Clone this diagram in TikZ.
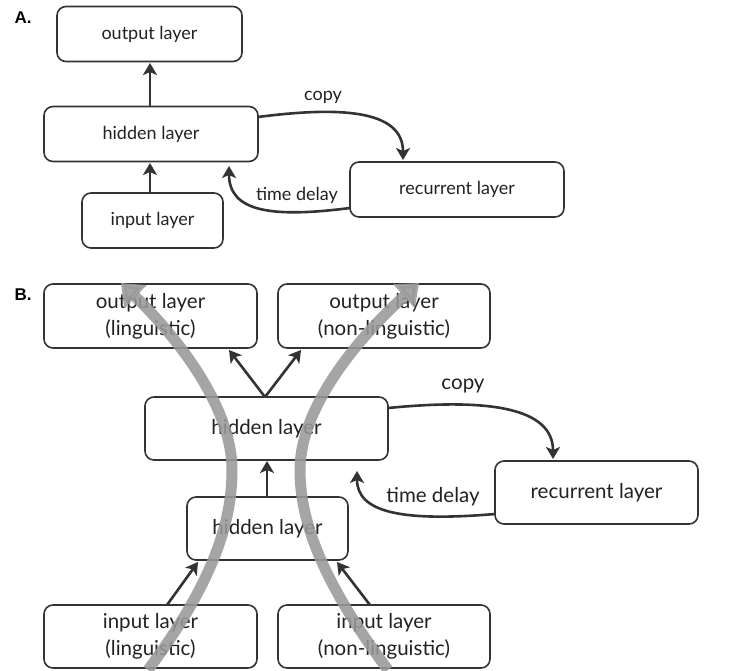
\documentclass[tikz,border=0pt]{standalone}
\usepackage{fontspec}
\setmainfont{Lato}
\newfontfamily\labfont{Liberation Sans}
\usetikzlibrary{arrows.meta}
\definecolor{linec}{HTML}{333333}
\definecolor{textc}{HTML}{222222}
\definecolor{bandc}{HTML}{999999}
\tikzset{
  boxA/.style={draw=linec, line width=1.6pt, rounded corners=9pt, fill=white,
    align=center, inner sep=0pt, text=textc, font=\fontsize{18}{22}\selectfont},
  boxB/.style={draw=linec, line width=1.6pt, rounded corners=9pt, fill=white,
    align=center, inner sep=0pt, text=textc, font=\fontsize{20.5}{27}\selectfont},
  arr/.style={draw=linec, line width=2.6pt, -{Stealth[length=12pt,width=14pt,inset=3pt]}},
  band/.style={draw=bandc, line width=11pt, opacity=0.88,
    -{Triangle[length=20pt,width=31pt]}},
  lblA/.style={text=textc, font=\fontsize{18}{22}\selectfont, inner sep=0pt},
  lblB/.style={text=textc, font=\fontsize{20.5}{24}\selectfont, inner sep=0pt},
  tag/.style={text=black, font=\labfont\bfseries\fontsize{17}{20}\selectfont, inner sep=0pt}
}
\begin{document}
\begin{tikzpicture}[x=1pt,y=-1pt]
\useasboundingbox (0,0) rectangle (730,670);
\fill[white] (0,0) rectangle (730,670);

% ---------- Part A ----------
\node[tag] (tagA) at (23,18) {A.};
\node[boxA, minimum width=185pt, minimum height=55pt] (outA) at (149.5,34) {output layer};
\node[boxA, minimum width=214pt, minimum height=55pt] (hidA) at (151,134) {hidden layer};
\node[boxA, minimum width=141pt, minimum height=55pt] (inA) at (152.5,220.5) {input layer};
\node[boxA, minimum width=214pt, minimum height=55pt] (recA) at (457,189.5) {recurrent layer};
\node[lblA] (copyA) at (323,97) {copy};
\node[lblA] (delA) at (297,195) {time delay};

\coordinate (hAtop) at (150,106);
\coordinate (oAbot) at (150,63);
\coordinate (iAtop) at (150,193);
\coordinate (hAbot) at (150,163);
\coordinate (cAs) at (258,117);
\coordinate (cAe) at (403,160);
\coordinate (dAs) at (350,208);
\coordinate (dAe) at (229,166);

\draw[arr] (hAtop) -- (oAbot);
\draw[arr] (iAtop) -- (hAbot);
\draw[arr] (cAs) .. controls (350,105) and (403,113) .. (cAe);
\draw[arr] (dAs) .. controls (272,218) and (229,212) .. (dAe);

% ---------- Part B ----------
\node[tag] (tagB) at (23,295) {B.};
\node[boxB, minimum width=213pt, minimum height=64pt] (outL) at (150.5,316) {output layer\\(linguistic)};
\node[boxB, minimum width=212pt, minimum height=64pt] (outN) at (384,316) {output layer\\(non-linguistic)};
\node[boxB, minimum width=243pt, minimum height=63pt] (hidB) at (266.5,428.5) {hidden layer};
\node[boxB, minimum width=161pt, minimum height=63pt] (hidS) at (267.5,528.5) {hidden layer};
\node[boxB, minimum width=203pt, minimum height=63pt] (recB) at (596.5,492.5) {recurrent layer};
\node[boxB, minimum width=213pt, minimum height=63pt] (inL) at (150.5,636.5) {input layer\\(linguistic)};
\node[boxB, minimum width=212pt, minimum height=63pt] (inN) at (384,636.5) {input layer\\(non-linguistic)};
\node[lblB] (copyB) at (463,386) {copy};
\node[lblB] (delB) at (433,497) {time delay};

\coordinate (hBtop) at (265,397);
\coordinate (oLt) at (229,350);
\coordinate (oNt) at (301,350);
\coordinate (hSt) at (267,497);
\coordinate (hBb) at (267,461);
\coordinate (iLt) at (167,605);
\coordinate (iNt) at (370,605);
\coordinate (hSl) at (198,562);
\coordinate (hSr) at (337,562);
\coordinate (cBs) at (388,408);
\coordinate (cBe) at (553,459);
\coordinate (dBs) at (495,514);
\coordinate (dBe) at (357,471);

\draw[arr] (hBtop) -- (oLt);
\draw[arr] (hBtop) -- (oNt);
\draw[arr] (hSt) -- (hBb);
\draw[arr] (iLt) -- (hSl);
\draw[arr] (iNt) -- (hSr);
\draw[arr] (cBs) .. controls (490,398) and (553,408) .. (cBe);
\draw[arr] (dBs) .. controls (400,522) and (357,512) .. (dBe);

% grey flow bands
\coordinate (gLs) at (148,670);
\coordinate (gLm) at (232,470);
\coordinate (gLe) at (121,283);
\coordinate (gRs) at (388,670);
\coordinate (gRm) at (300,470);
\coordinate (gRe) at (419,283);
\draw[band] (gLs) .. controls (215,580) and (232,520) .. (gLm)
  .. controls (232,400) and (165,325) .. (gLe);
\draw[band] (gRs) .. controls (321,580) and (300,520) .. (gRm)
  .. controls (300,400) and (372,325) .. (gRe);
\end{tikzpicture}
\end{document}
